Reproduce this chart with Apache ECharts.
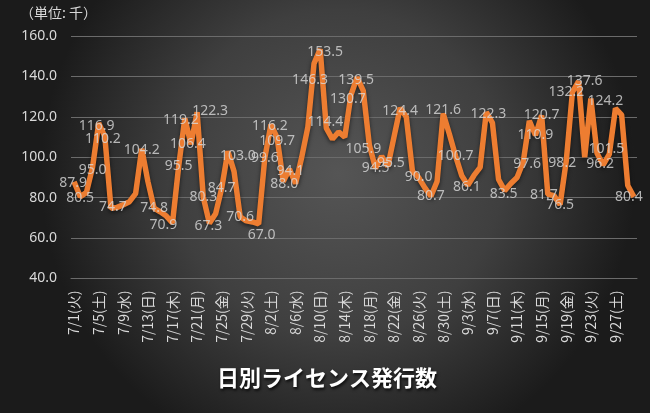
<!DOCTYPE html>
<html>
<head>
<meta charset="utf-8">
<script src="https://cdn.jsdelivr.net/npm/echarts@6/dist/echarts.min.js"></script>
<style>html,body{margin:0;padding:0;background:#222;}#c{width:650px;height:413px;}</style>
</head>
<body>
<div id="c"></div>
<script>
var categories = [
"7/1(火)","7/2(水)","7/3(木)","7/4(金)","7/5(土)","7/6(日)","7/7(月)",
"7/8(火)","7/9(水)","7/10(木)","7/11(金)","7/12(土)","7/13(日)","7/14(月)",
"7/15(火)","7/16(水)","7/17(木)","7/18(金)","7/19(土)","7/20(日)","7/21(月)",
"7/22(火)","7/23(水)","7/24(木)","7/25(金)","7/26(土)","7/27(日)","7/28(月)",
"7/29(火)","7/30(水)","7/31(木)",
"8/1(金)","8/2(土)","8/3(日)","8/4(月)","8/5(火)","8/6(水)","8/7(木)",
"8/8(金)","8/9(土)","8/10(日)","8/11(月)","8/12(火)","8/13(水)","8/14(木)",
"8/15(金)","8/16(土)","8/17(日)","8/18(月)","8/19(火)","8/20(水)","8/21(木)",
"8/22(金)","8/23(土)","8/24(日)","8/25(月)","8/26(火)","8/27(水)","8/28(木)",
"8/29(金)","8/30(土)","8/31(日)",
"9/1(月)","9/2(火)","9/3(水)","9/4(木)","9/5(金)","9/6(土)","9/7(日)",
"9/8(月)","9/9(火)","9/10(水)","9/11(木)","9/12(金)","9/13(土)","9/14(日)",
"9/15(月)","9/16(火)","9/17(水)","9/18(木)","9/19(金)","9/20(土)","9/21(日)",
"9/22(月)","9/23(火)","9/24(水)","9/25(木)","9/26(金)","9/27(土)","9/28(日)",
"9/29(月)","9/30(火)"
];
var values = [
87.9,80.5,82.5,95.0,116.9,110.2,74.7,
75.2,76.5,78.0,82.0,104.2,88.0,74.8,
73.0,70.9,67.5,95.5,119.2,106.4,122.3,
80.3,67.3,72.0,84.7,103.0,93.0,70.6,
68.5,68.0,67.0,
99.6,116.2,109.7,88.0,94.1,87.0,100.0,
115.0,146.3,153.5,114.4,109.0,112.5,110.0,
130.7,139.5,133.0,105.9,94.5,100.5,95.5,
110.0,124.4,120.0,93.0,90.0,85.0,80.7,
88.0,121.6,111.5,
100.7,91.0,86.1,91.0,95.0,122.3,117.0,
89.0,83.5,87.0,90.0,97.6,118.0,110.9,
120.7,81.7,81.0,76.5,98.2,132.2,137.6,
100.0,129.0,102.0,96.2,101.5,124.2,121.0,
86.0,80.4
];
var labeledDays = [0,1,3,4,5,6,11,13,15,17,18,19,20,21,22,24,25,27,30,31,32,33,34,35,39,40,41,45,46,48,49,51,53,56,58,60,62,64,67,70,73,75,76,77,79,80,81,82,86,87,88,91];
var yTicks = [40,60,80,100,120,140,160];
var unitText = "（単位: 千）";
var titleText = "日別ライセンス発行数";

// label nudges (style only)
var nudge = {0:[-1,1],1:[0,1],3:[0,3],4:[-2,3],5:[-2,2],6:[2,-1],11:[0,1],15:[-3,9],18:[-4,2],19:[-3,0],20:[13,-1],22:[-1,3],25:[10,5],30:[3,11],32:[-1,2],33:[0,3],34:[1,3],35:[1,2],39:[-4,16],40:[5,3],41:[-1,-6],45:[-3,4],46:[-1,3],48:[-6,4],51:[3,-3],53:[0,3],60:[0,-4],64:[-1,2],67:[2,2],70:[-1,3],73:[4,2],77:[-4,1],80:[-4,2],81:[-6,0],82:[6,0],86:[-3,-1],87:[-3,-5],88:[-10,-7],91:[-5,0]};

var lineData = values.slice();
var labelData = values.map(function(v,i){
  if (labeledDays.indexOf(i) >= 0) {
    return {value: v, label: {show: true, offset: nudge[i] || [0,0]}};
  }
  return {value: v, label: {show: false}};
});

var chart = echarts.init(document.getElementById('c'), null, {renderer:'canvas'});
chart.setOption({
  animation: false,
  backgroundColor: {
    type: 'radial', x: 0.52, y: 0.42, r: 0.72,
    colorStops: [{offset:0,color:'#555555'},{offset:0.55,color:'#3f3f3f'},{offset:1,color:'#1b1b1b'}]
  },
  grid: {left: 71, right: 13, top: 36, bottom: 134.5, containLabel: false},
  title: {
    text: titleText, left: 212, top: 362,
    textStyle: {color:'#ffffff', fontSize: 22, fontWeight: 'bold', fontFamily: 'Noto Sans CJK JP',
      textShadowColor: 'rgba(0,0,0,0.8)', textShadowBlur: 3, textShadowOffsetX: 1, textShadowOffsetY: 2}
  },
  graphic: [{
    type: 'text', left: 20, top: 6,
    style: {text: unitText, fill: '#d9d9d9', fontSize: 14, fontFamily: 'Noto Sans CJK JP'}
  }],
  xAxis: {
    type: 'category', data: categories, boundaryGap: true,
    axisLine: {show: true, lineStyle: {color: '#6b6b6b'}},
    axisTick: {show: false},
    axisLabel: {interval: 3, rotate: 90, color: '#d9d9d9', fontSize: 14, margin: 12, fontFamily: 'Noto Sans CJK JP'},
    splitLine: {show: false}
  },
  yAxis: {
    type: 'value', min: yTicks[0], max: yTicks[yTicks.length-1], interval: 20,
    axisLine: {show: false}, axisTick: {show: false},
    axisLabel: {color: '#d9d9d9', fontSize: 14, margin: 14, fontFamily: 'Noto Sans',
      formatter: function(v){ return v.toFixed(1); }},
    splitLine: {lineStyle: {color: '#6b6b6b', width: 1}}
  },
  series: [{
    type: 'line', data: lineData,
    symbol: 'none', showSymbol: false,
    lineStyle: {color: '#ED7D31', width: 5.5, shadowColor: 'rgba(0,0,0,0.55)', shadowBlur: 4, shadowOffsetY: 2},
    emphasis: {disabled: true},
    silent: true,
    z: 3
  }, {
    type: 'scatter', data: labelData,
    symbol: 'circle', symbolSize: 1,
    itemStyle: {color: 'rgba(0,0,0,0)'},
    label: {position: 'inside', color: '#d9d9d9', fontSize: 14, fontFamily: 'Noto Sans',
      formatter: function(p){ return p.value.toFixed(1); }},
    emphasis: {disabled: true},
    silent: true,
    z: 4
  }]
});
</script>
</body>
</html>
